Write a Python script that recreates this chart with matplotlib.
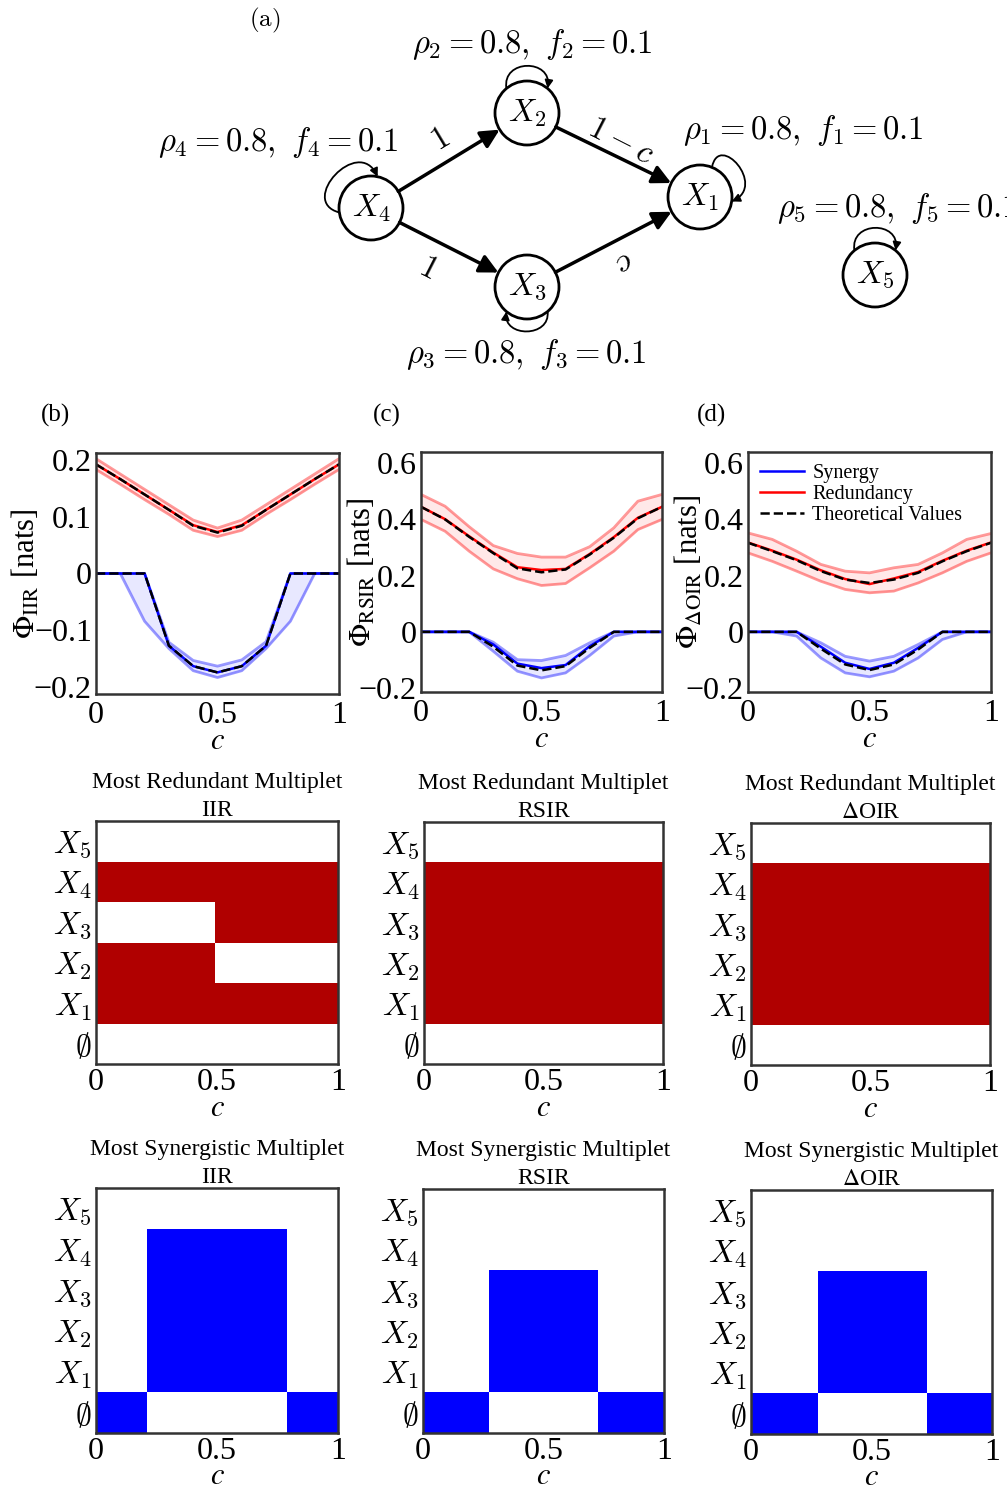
import numpy as np
import matplotlib
matplotlib.use("Agg")
import matplotlib.pyplot as plt
from matplotlib.patches import Circle, FancyArrowPatch
from matplotlib.path import Path
from matplotlib.colors import ListedColormap

plt.rcParams['font.family'] = 'serif'
plt.rcParams['font.serif'] = ['Liberation Serif', 'DejaVu Serif']
plt.rcParams['mathtext.fontset'] = 'stix'

# ---------------- data ----------------
c = [0.0, 0.1, 0.2, 0.3, 0.4, 0.5, 0.6, 0.7, 0.8, 0.9, 1.0]

iir_red_theory = [0.192, 0.166, 0.139, 0.112, 0.084, 0.072, 0.084, 0.112, 0.139, 0.166, 0.192]
iir_red_mean = [0.192, 0.166, 0.139, 0.112, 0.085, 0.073, 0.085, 0.112, 0.139, 0.166, 0.192]
iir_red_upper = [0.202, 0.175, 0.148, 0.121, 0.094, 0.080, 0.094, 0.121, 0.148, 0.175, 0.202]
iir_red_lower = [0.183, 0.157, 0.130, 0.104, 0.076, 0.065, 0.076, 0.104, 0.130, 0.157, 0.183]
iir_syn_theory = [0, 0, 0, -0.127, -0.163, -0.174, -0.163, -0.127, 0, 0, 0]
iir_syn_mean = [0, 0, 0, -0.127, -0.163, -0.174, -0.163, -0.127, 0, 0, 0]
iir_syn_upper = [0, 0, 0, -0.121, -0.153, -0.163, -0.152, -0.120, 0, 0, 0]
iir_syn_lower = [0, 0, -0.084, -0.132, -0.171, -0.183, -0.171, -0.132, -0.084, 0, 0]

rsir_red_theory = [0.445, 0.400, 0.338, 0.280, 0.226, 0.212, 0.222, 0.275, 0.335, 0.404, 0.445]
rsir_red_mean = [0.445, 0.401, 0.340, 0.282, 0.230, 0.220, 0.224, 0.277, 0.337, 0.406, 0.445]
rsir_red_upper = [0.489, 0.447, 0.374, 0.307, 0.279, 0.266, 0.266, 0.303, 0.370, 0.465, 0.489]
rsir_red_lower = [0.400, 0.358, 0.287, 0.224, 0.189, 0.165, 0.172, 0.228, 0.287, 0.364, 0.400]
rsir_syn_theory = [0, 0, 0, -0.053, -0.120, -0.137, -0.122, -0.057, 0, 0, 0]
rsir_syn_mean = [0, 0, 0, -0.045, -0.113, -0.129, -0.118, -0.051, 0, 0, 0]
rsir_syn_upper = [0, 0, 0, -0.037, -0.099, -0.102, -0.084, -0.039, 0, 0, 0]
rsir_syn_lower = [0, 0, 0, -0.069, -0.140, -0.164, -0.146, -0.084, -0.015, 0, 0]

doir_red_theory = [0.317, 0.287, 0.255, 0.216, 0.186, 0.174, 0.186, 0.210, 0.251, 0.287, 0.317]
doir_red_mean = [0.318, 0.289, 0.257, 0.219, 0.188, 0.170, 0.190, 0.213, 0.253, 0.289, 0.318]
doir_red_upper = [0.352, 0.329, 0.287, 0.240, 0.216, 0.210, 0.228, 0.240, 0.281, 0.329, 0.350]
doir_red_lower = [0.281, 0.251, 0.216, 0.180, 0.151, 0.139, 0.145, 0.174, 0.210, 0.251, 0.281]
doir_syn_theory = [0, 0, 0, -0.060, -0.116, -0.136, -0.116, -0.063, 0, 0, 0]
doir_syn_mean = [0, 0, 0, -0.053, -0.110, -0.132, -0.110, -0.057, 0, 0, 0]
doir_syn_upper = [0, 0, 0, -0.039, -0.087, -0.104, -0.087, -0.045, 0, 0, 0]
doir_syn_lower = [0, 0, -0.015, -0.093, -0.146, -0.160, -0.140, -0.093, -0.027, 0, 0]

# heatmaps: rows bottom->top = empty, X1..X5 ; columns given by c edges
row_labels = [r'$\emptyset$', r'$X_1$', r'$X_2$', r'$X_3$', r'$X_4$', r'$X_5$']
red_iir_edges = [0.0, 0.49, 1.0]
red_iir = [[0, 0], [1, 1], [1, 0], [0, 1], [1, 1], [0, 0]]
red_rsir_edges = [0.0, 1.0]
red_rsir = [[0], [1], [1], [1], [1], [0]]
red_doir_edges = [0.0, 1.0]
red_doir = [[0], [1], [1], [1], [1], [0]]
syn_iir_edges = [0.0, 0.21, 0.79, 1.0]
syn_iir = [[1, 0, 1], [0, 1, 0], [0, 1, 0], [0, 1, 0], [0, 1, 0], [0, 0, 0]]
syn_rsir_edges = [0.0, 0.272, 0.728, 1.0]
syn_rsir = [[1, 0, 1], [0, 1, 0], [0, 1, 0], [0, 1, 0], [0, 0, 0], [0, 0, 0]]
syn_doir_edges = [0.0, 0.276, 0.732, 1.0]
syn_doir = [[1, 0, 1], [0, 1, 0], [0, 1, 0], [0, 1, 0], [0, 0, 0], [0, 0, 0]]

measures = ['IIR', 'RSIR', r'$\Delta$OIR']
ylabels = [r'$\Phi_{\mathrm{IIR}}$ [nats]', r'$\Phi_{\mathrm{RSIR}}$ [nats]',
           r'$\Phi_{\Delta\mathrm{OIR}}$ [nats]']

# ---------------- figure ----------------
W, H = 1007, 1486
fig = plt.figure(figsize=(W / 100, H / 100), dpi=100)


def pos(l, r, t, b):
    return [l / W, 1 - b / H, (r - l) / W, (b - t) / H]


SPINE = '#333333'
TICKFS = 23


def style(ax):
    for s in ax.spines.values():
        s.set_linewidth(1.8)
        s.set_color(SPINE)
    ax.tick_params(axis='x', length=0, pad=5, labelsize=TICKFS)
    ax.tick_params(axis='y', length=0, pad=3, labelsize=TICKFS)


# ---------------- (a) network ----------------
axn = fig.add_axes([0, 1 - 380 / H, 1, 380 / H])
axn.set_xlim(0, W)
axn.set_ylim(380, 0)
axn.axis('off')
R = 32
nodes = {1: (700, 197), 2: (527, 113), 3: (527, 287), 4: (371, 208), 5: (875, 275)}
for k, (x, y) in nodes.items():
    axn.add_patch(Circle((x, y), R, fill=False, lw=2, ec='k'))
    axn.text(x, y, r'$X_%d$' % k, ha='center', va='center', fontsize=23, math_fontfamily='cm')


def edge(a, b):
    (x0, y0), (x1, y1) = nodes[a], nodes[b]
    d = np.hypot(x1 - x0, y1 - y0)
    ux, uy = (x1 - x0) / d, (y1 - y0) / d
    p = FancyArrowPatch((x0 + R * ux, y0 + R * uy), (x1 - R * ux, y1 - R * uy),
                        arrowstyle='-|>', mutation_scale=28, lw=2.5, color='k',
                        shrinkA=0, shrinkB=0)
    axn.add_patch(p)


for a, b in [(4, 2), (4, 3), (2, 1), (3, 1)]:
    edge(a, b)


def loop(k, a1, a2, s1, s2, ext):
    cx, cy = nodes[k]
    u = lambda a, r: (cx + r * np.cos(np.radians(a)), cy - r * np.sin(np.radians(a)))
    verts = [u(a1, R), u(s1, R + ext), u(s2, R + ext), u(a2, R)]
    path = Path(verts, [Path.MOVETO, Path.CURVE4, Path.CURVE4, Path.CURVE4])
    axn.add_patch(FancyArrowPatch(path=path, arrowstyle='-|>', mutation_scale=12,
                                  lw=1.3, color='k', shrinkA=0, shrinkB=0))


loop(2, 130, 50, 115, 65, 28)
loop(5, 130, 50, 115, 65, 28)
loop(3, -50, -130, -65, -115, 24)
loop(4, 188, 78, 175, 100, 42)
loop(1, 68, -8, 74, 10, 36)

lab_kw = dict(fontsize=23.5, math_fontfamily='cm')
axn.text(532, 45, r'$\rho_2 = 0.8,\ f_2 = 0.1$', ha='center', va='center', **lab_kw)
axn.text(278, 142, r'$\rho_4 = 0.8,\ f_4 = 0.1$', ha='center', va='center', **lab_kw)
axn.text(803, 131, r'$\rho_1 = 0.8,\ f_1 = 0.1$', ha='center', va='center', **lab_kw)
axn.text(777, 208, r'$\rho_5 = 0.8,\ f_5 = 0.1$', ha='left', va='center', **lab_kw)
axn.text(526, 355, r'$\rho_3 = 0.8,\ f_3 = 0.1$', ha='center', va='center', **lab_kw)
axn.text(440, 140, r'$1$', rotation=31, ha='center', va='center', **lab_kw)
axn.text(620, 142, r'$1-c$', rotation=-27, ha='center', va='center', **lab_kw)
axn.text(428, 268, r'$1$', rotation=-27, ha='center', va='center', **lab_kw)
axn.text(625, 262, r'$c$', rotation=207, ha='center', va='center', **lab_kw)
axn.text(265, 20, r'$(\mathrm{a})$', ha='center', va='center', fontsize=18, math_fontfamily='cm')

# ---------------- line plots ----------------
line_pos = [pos(96, 339, 453, 694), pos(421, 662, 452, 692), pos(748, 991, 452, 692)]
ylims = [(-0.212, 0.212), (-0.214, 0.64), (-0.214, 0.64)]
yticks = [[-0.2, -0.1, 0, 0.1, 0.2], [-0.2, 0, 0.2, 0.4, 0.6], [-0.2, 0, 0.2, 0.4, 0.6]]
ytlabels = [['\u22120.2', '\u22120.1', '0', '0.1', '0.2'],
            ['\u22120.2', '0', '0.2', '0.4', '0.6'],
            ['\u22120.2', '0', '0.2', '0.4', '0.6']]
series = [
    (iir_red_theory, iir_red_mean, iir_red_upper, iir_red_lower,
     iir_syn_theory, iir_syn_mean, iir_syn_upper, iir_syn_lower),
    (rsir_red_theory, rsir_red_mean, rsir_red_upper, rsir_red_lower,
     rsir_syn_theory, rsir_syn_mean, rsir_syn_upper, rsir_syn_lower),
    (doir_red_theory, doir_red_mean, doir_red_upper, doir_red_lower,
     doir_syn_theory, doir_syn_mean, doir_syn_upper, doir_syn_lower),
]
panel_xy = [(55, 415), (387, 415), (711, 415)]
ylabel_pad = [-6, -14, -14]
for i in range(3):
    ax = fig.add_axes(line_pos[i])
    rt, rm, ru, rl, st, sm, su, sl = series[i]
    for col, mean, up, lo, lab in [('blue', sm, su, sl, 'Synergy'), ('red', rm, ru, rl, 'Redundancy')]:
        ax.fill_between(c, lo, up, color=col, alpha=0.09, lw=0)
        ax.plot(c, up, color=col, alpha=0.4, lw=2)
        ax.plot(c, lo, color=col, alpha=0.4, lw=2)
        ax.plot(c, mean, color=col, lw=1.8, label=lab)
    ax.plot(c, rt, 'k--', lw=1.8, label='Theoretical Values')
    ax.plot(c, st, 'k--', lw=1.8)
    ax.set_xlim(0, 1)
    ax.set_ylim(*ylims[i])
    ax.set_xticks([0, 0.5, 1])
    ax.set_xticklabels(['0', '0.5', '1'])
    ax.set_yticks(yticks[i])
    ax.set_yticklabels(ytlabels[i])
    ax.set_xlabel(r'$c$', fontsize=22, labelpad=-2)
    style(ax)
    ax.set_ylabel(ylabels[i], fontsize=22, labelpad=ylabel_pad[i])
    fig.text(panel_xy[i][0] / W, 1 - panel_xy[i][1] / H, '(%s)' % 'bcd'[i],
             ha='center', va='center', fontsize=18)
    if i == 2:
        ax.legend(loc='upper left', frameon=False, fontsize=14.5, handlelength=2.2,
                  borderaxespad=0.2, labelspacing=0.1, handletextpad=0.4)

# ---------------- heatmaps ----------------
heat_pos_red = [pos(96, 338, 821, 1064), pos(424, 663, 822, 1064), pos(751, 990, 823, 1065)]
heat_pos_syn = [pos(96, 338, 1188, 1433), pos(423, 664, 1189, 1433), pos(751, 992, 1190, 1434)]
red_data = [(red_iir_edges, red_iir), (red_rsir_edges, red_rsir), (red_doir_edges, red_doir)]
syn_data = [(syn_iir_edges, syn_iir), (syn_rsir_edges, syn_rsir), (syn_doir_edges, syn_doir)]
cm_red = ListedColormap(['white', '#b00000'])
cm_blue = ListedColormap(['white', '#0000ff'])

for title, posl, data, cmap, xlp in [('Most Redundant Multiplet', heat_pos_red, red_data, cm_red, -2),
                                     ('Most Synergistic Multiplet', heat_pos_syn, syn_data, cm_blue, -3)]:
    for i in range(3):
        ax = fig.add_axes(posl[i])
        edges, mat = data[i]
        ax.pcolormesh(edges, np.arange(len(row_labels) + 1), np.array(mat),
                      cmap=cmap, vmin=0, vmax=1, shading='flat')
        ax.set_xlim(0, 1)
        ax.set_ylim(0, len(row_labels))
        ax.set_yticks(np.arange(len(row_labels)) + 0.5)
        ax.set_yticklabels(row_labels, math_fontfamily='cm')
        ax.set_xticks([0, 0.5, 1])
        ax.set_xticklabels(['0', '0.5', '1'])
        ax.set_xlabel(r'$c$', fontsize=22, labelpad=xlp)
        ax.set_title(title + '\n' + measures[i], fontsize=17, pad=3, linespacing=1.45)
        style(ax)
        ax.tick_params(axis='x', pad=3)

fig.savefig('out.png', dpi=100)
